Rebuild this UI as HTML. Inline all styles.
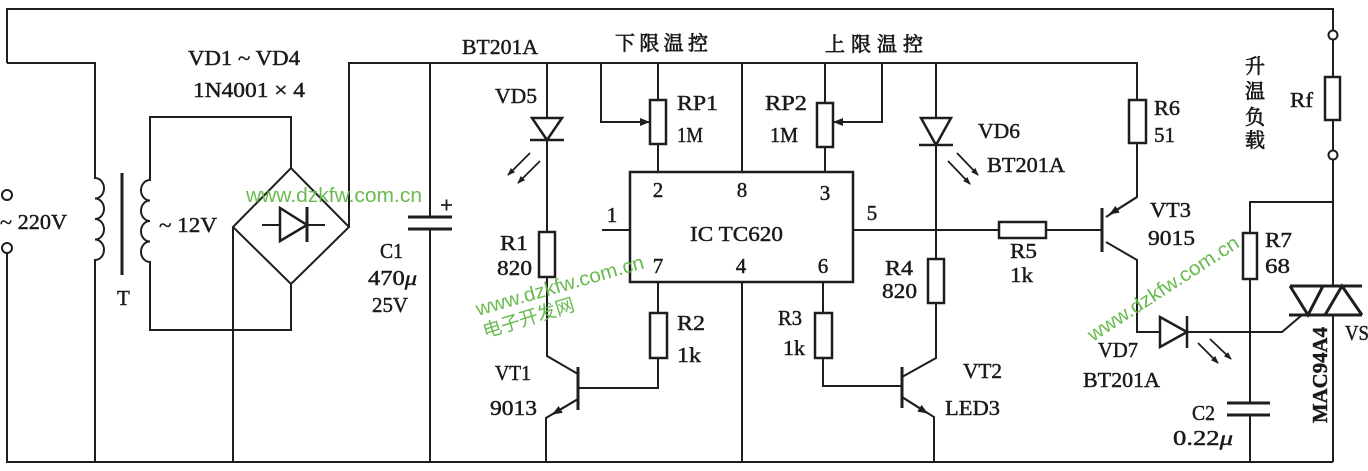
<!DOCTYPE html>
<html><head><meta charset="utf-8"><style>
html,body{margin:0;padding:0;background:#fff;}
svg{display:block;}
.w{fill:none;stroke:#1e1e1e;stroke-width:2;stroke-linejoin:miter;}
.r{fill:#fff;stroke:#1e1e1e;stroke-width:2.5;}
.t{font-family:"Liberation Serif","Noto Serif CJK SC",serif;font-size:21px;fill:#1a1a1a;stroke:#1a1a1a;stroke-width:0.45;}
.c{font-family:"Liberation Serif","Noto Serif CJK SC","Noto Sans CJK SC",serif;font-size:20px;fill:#1a1a1a;stroke:#1a1a1a;stroke-width:0.7;}
.g{font-family:"Liberation Sans","Noto Sans CJK SC",sans-serif;font-size:20px;fill:#62b846;opacity:0.95;}
</style></head><body>
<svg width="1368" height="471" viewBox="0 0 1368 471" xmlns="http://www.w3.org/2000/svg">
<defs>
<marker id="a" markerWidth="10" markerHeight="8" refX="9" refY="4" orient="auto" markerUnits="userSpaceOnUse"><path d="M0,0 L10,4 L0,8 Z" fill="#1e1e1e"/></marker>
<marker id="s" markerWidth="8" markerHeight="6" refX="7" refY="3" orient="auto" markerUnits="userSpaceOnUse"><path d="M0,0 L8,3 L0,6 Z" fill="#1e1e1e"/></marker>
</defs>
<rect width="1368" height="471" fill="#fff"/>

<!-- top wire and left -->
<path class="w" d="M7,63 V9 H1333 V30.5"/>
<path class="w" d="M7,63 H95 V178 a9,10.25 0 0 1 0,20.5 a9,10.25 0 0 1 0,20.5 a9,10.25 0 0 1 0,20.5 a9,10.25 0 0 1 0,20.5 V462"/>
<circle cx="7" cy="195" r="5" class="w"/>
<circle cx="7" cy="248" r="5" class="w"/>
<path class="w" d="M7,253 V462 H1333"/>
<path class="w" style="stroke-width:3" d="M122,173 V275"/>
<path class="w" d="M291,168 V117 H150 V180 a9,10.25 0 0 0 0,20.5 a9,10.25 0 0 0 0,20.5 a9,10.25 0 0 0 0,20.5 a9,10.25 0 0 0 0,20.5 V330 H291 V284"/>
<!-- bridge -->
<path class="w" d="M233,227 L291,168 L349,227 L291,284 Z"/>
<path class="w" d="M233,227 V462"/>
<path class="w" d="M262,225 H325"/>
<polygon points="280,208 280,241 307,225" fill="#fff" stroke="#1e1e1e" stroke-width="2.5"/>
<path class="w" style="stroke-width:3" d="M307,207 V242"/>
<path class="w" d="M349,227 V63 H1137 V100"/>
<!-- C1 -->
<path class="w" d="M430,63 V217 M430,229 V462"/>
<path class="w" style="stroke-width:3" d="M408,217 H452 M408,229 H452"/>
<path class="w" style="stroke-width:1.8" d="M441,205 H452 M446.5,199.5 V210.5"/>

<!-- VD5 / R1 / VT1 -->
<path class="w" d="M547,63 V118"/>
<polygon points="532,118 562,118 547,140" fill="#fff" stroke="#1e1e1e" stroke-width="2.5"/>
<path class="w" style="stroke-width:2.5" d="M530,140 H564"/>
<path class="w" d="M547,140 V232"/>
<rect class="r" x="539" y="232" width="16" height="45"/>
<path class="w" d="M547,277 V356 L578,374"/>
<path class="w" style="stroke-width:3" d="M578,367 V410"/>
<path class="w" d="M578,399 L546,418 V462"/>
<path class="w" d="M578,399 L553,414" marker-end="url(#a)"/>
<path class="w" style="stroke-width:1.8" d="M530,153 L508,175" marker-end="url(#s)"/>
<path class="w" style="stroke-width:1.8" d="M540,161 L518,183" marker-end="url(#s)"/>

<!-- RP1 -->
<path class="w" d="M601,63 V122 H649" marker-end="url(#a)"/>
<path class="w" d="M658,63 V100 M658,144 V172"/>
<rect class="r" x="650" y="100" width="16" height="44"/>
<path class="w" d="M742,63 V172"/>
<!-- RP2 -->
<path class="w" d="M825,63 V103 M825,147 V172"/>
<rect class="r" x="817" y="103" width="16" height="44"/>
<path class="w" d="M882,63 V122 H834" marker-end="url(#a)"/>

<!-- IC -->
<rect x="630" y="172" width="223" height="110" fill="none" stroke="#1e1e1e" stroke-width="2.5"/>
<path class="w" d="M602,230 H630"/>
<path class="w" d="M853,230 H999 M1046,230 H1102"/>
<rect class="r" x="999" y="222" width="47" height="16"/>
<path class="w" d="M658,282 V313 M658,358 V388 H578"/>
<rect class="r" x="650" y="313" width="17" height="45"/>
<path class="w" d="M742,282 V462"/>
<path class="w" d="M823,282 V313 M823,358 V386 H902"/>
<rect class="r" x="815" y="313" width="17" height="45"/>

<!-- VD6 / R4 / VT2 -->
<path class="w" d="M936,63 V118"/>
<polygon points="921,118 951,118 936,145" fill="#fff" stroke="#1e1e1e" stroke-width="2.5"/>
<path class="w" style="stroke-width:2.5" d="M919,145 H953"/>
<path class="w" d="M936,145 V259 M936,303 V358 L902,377"/>
<rect class="r" x="928" y="259" width="16" height="44"/>
<path class="w" style="stroke-width:3" d="M902,367 V408"/>
<path class="w" d="M902,397 L934,417 V462"/>
<path class="w" d="M902,397 L927,413" marker-end="url(#a)"/>
<path class="w" style="stroke-width:1.8" d="M957,153 L978,175" marker-end="url(#s)"/>
<path class="w" style="stroke-width:1.8" d="M948,161 L970,184" marker-end="url(#s)"/>

<!-- R6 / VT3 / VD7 -->
<rect class="r" x="1129" y="100" width="17" height="43"/>
<path class="w" d="M1137,143 V197 L1106,217"/>
<path class="w" d="M1137,197 L1110,214" marker-end="url(#a)"/>
<path class="w" style="stroke-width:3" d="M1102,208 V252"/>
<path class="w" d="M1106,242 L1137,260 V332 H1160"/>
<polygon points="1160,317 1160,347 1187,332" fill="#fff" stroke="#1e1e1e" stroke-width="2.5"/>
<path class="w" style="stroke-width:2.5" d="M1187,316 V348"/>
<path class="w" d="M1187,332 H1282 L1302,315"/>
<path class="w" style="stroke-width:1.8" d="M1198,343 L1218,363" marker-end="url(#s)"/>
<path class="w" style="stroke-width:1.8" d="M1210,339 L1231,359" marker-end="url(#s)"/>

<!-- R7 / C2 -->
<path class="w" d="M1333,202 H1250 V233 M1250,279 V403 M1250,415 V462"/>
<rect class="r" x="1243" y="233" width="14" height="46"/>
<path class="w" style="stroke-width:3" d="M1227,403 H1270 M1227,415 H1270"/>

<!-- Rf / triac -->
<circle cx="1333" cy="35" r="4.5" class="w"/>
<path class="w" d="M1333,39.5 V77 M1333,120 V150.5"/>
<rect class="r" x="1325" y="77" width="15" height="43"/>
<circle cx="1333" cy="155" r="4.5" class="w"/>
<path class="w" d="M1333,159.5 V286 M1333,315 V462"/>
<path class="w" style="stroke-width:3" d="M1290,286 H1362 M1289,315 H1362 M1290,286 L1308,315 L1323,286 M1325,315 L1342,286 L1362,315"/>

<!-- labels -->
<text class="t" x="0" y="229" textLength="67" lengthAdjust="spacingAndGlyphs">~ 220V</text>
<text class="t" x="117" y="305">T</text>
<text class="t" x="159" y="232" textLength="58" lengthAdjust="spacingAndGlyphs">~ 12V</text>
<text class="t" x="188" y="65" textLength="112" lengthAdjust="spacingAndGlyphs">VD1 ~ VD4</text>
<text class="t" x="193" y="97" textLength="112" lengthAdjust="spacingAndGlyphs">1N4001 × 4</text>
<text class="t" x="380" y="258" textLength="23" lengthAdjust="spacingAndGlyphs">C1</text>
<text class="t" x="368" y="285" textLength="49" lengthAdjust="spacingAndGlyphs">470<tspan font-style="italic">μ</tspan></text>
<text class="t" x="372" y="312" textLength="36" lengthAdjust="spacingAndGlyphs">25V</text>
<text class="t" x="462" y="54" textLength="76" lengthAdjust="spacingAndGlyphs">BT201A</text>
<text class="c" x="615" y="50" textLength="93">下限温控</text>
<text class="c" x="825" y="51" textLength="98">上限温控</text>
<text class="t" x="495" y="103" textLength="42" lengthAdjust="spacingAndGlyphs">VD5</text>
<text class="t" x="677" y="110" textLength="41" lengthAdjust="spacingAndGlyphs">RP1</text>
<text class="t" x="677" y="142" textLength="26" lengthAdjust="spacingAndGlyphs">1M</text>
<text class="t" x="765" y="110" textLength="42" lengthAdjust="spacingAndGlyphs">RP2</text>
<text class="t" x="770" y="142" textLength="28" lengthAdjust="spacingAndGlyphs">1M</text>
<g class="t" text-anchor="middle">
<text x="658" y="197">2</text>
<text x="742" y="197">8</text>
<text x="825" y="200">3</text>
<text x="612" y="222">1</text>
<text x="872" y="220">5</text>
<text x="658" y="273">7</text>
<text x="741" y="273">4</text>
<text x="823" y="273">6</text>
</g>
<text class="t" x="690" y="241" textLength="93" lengthAdjust="spacingAndGlyphs">IC TC620</text>
<text class="t" x="500" y="250" textLength="28" lengthAdjust="spacingAndGlyphs">R1</text>
<text class="t" x="497" y="275" textLength="35" lengthAdjust="spacingAndGlyphs">820</text>
<text class="t" x="677" y="330" textLength="28" lengthAdjust="spacingAndGlyphs">R2</text>
<text class="t" x="677" y="362" textLength="24" lengthAdjust="spacingAndGlyphs">1k</text>
<text class="t" x="495" y="380" textLength="36" lengthAdjust="spacingAndGlyphs">VT1</text>
<text class="t" x="490" y="415" textLength="47" lengthAdjust="spacingAndGlyphs">9013</text>
<text class="t" x="778" y="325" textLength="24" lengthAdjust="spacingAndGlyphs">R3</text>
<text class="t" x="783" y="355" textLength="22" lengthAdjust="spacingAndGlyphs">1k</text>
<text class="t" x="978" y="138" textLength="42" lengthAdjust="spacingAndGlyphs">VD6</text>
<text class="t" x="987" y="172" textLength="78" lengthAdjust="spacingAndGlyphs">BT201A</text>
<text class="t" x="1154" y="115" textLength="26" lengthAdjust="spacingAndGlyphs">R6</text>
<text class="t" x="1154" y="142" textLength="21" lengthAdjust="spacingAndGlyphs">51</text>
<text class="t" x="1150" y="217" textLength="41" lengthAdjust="spacingAndGlyphs">VT3</text>
<text class="t" x="1148" y="245" textLength="47" lengthAdjust="spacingAndGlyphs">9015</text>
<text class="t" x="1290" y="107" textLength="23" lengthAdjust="spacingAndGlyphs">Rf</text>
<g class="c" text-anchor="middle">
<text x="1255" y="73">升</text>
<text x="1255" y="98">温</text>
<text x="1255" y="124">负</text>
<text x="1255" y="147">载</text>
</g>
<text class="t" x="1010" y="258" textLength="27" lengthAdjust="spacingAndGlyphs">R5</text>
<text class="t" x="1010" y="282" textLength="23" lengthAdjust="spacingAndGlyphs">1k</text>
<text class="t" x="885" y="275" textLength="28" lengthAdjust="spacingAndGlyphs">R4</text>
<text class="t" x="882" y="298" textLength="35" lengthAdjust="spacingAndGlyphs">820</text>
<text class="t" x="963" y="378" textLength="39" lengthAdjust="spacingAndGlyphs">VT2</text>
<text class="t" x="945" y="415" textLength="55" lengthAdjust="spacingAndGlyphs">LED3</text>
<text class="t" x="1098" y="357" textLength="40" lengthAdjust="spacingAndGlyphs">VD7</text>
<text class="t" x="1083" y="387" textLength="77" lengthAdjust="spacingAndGlyphs">BT201A</text>
<text class="t" x="1265" y="247" textLength="27" lengthAdjust="spacingAndGlyphs">R7</text>
<text class="t" x="1265" y="273" textLength="25" lengthAdjust="spacingAndGlyphs">68</text>
<text class="t" x="1192" y="420" textLength="23" lengthAdjust="spacingAndGlyphs">C2</text>
<text class="t" x="1173" y="445" textLength="60" lengthAdjust="spacingAndGlyphs">0.22<tspan font-style="italic">μ</tspan></text>
<text class="t" font-weight="bold" text-anchor="middle" transform="translate(1327,375) rotate(-90)" textLength="96" lengthAdjust="spacingAndGlyphs">MAC94A4</text>
<text class="t" x="1345" y="340" textLength="24" lengthAdjust="spacingAndGlyphs">VS</text>

<!-- watermarks -->
<text class="g" x="246" y="202" textLength="176" lengthAdjust="spacingAndGlyphs">www.dzkfw.com.cn</text>
<text class="g" transform="translate(478,316) rotate(-16)" textLength="174" lengthAdjust="spacingAndGlyphs">www.dzkfw.com.cn</text>
<text class="g" style="font-size:19px" transform="translate(485,338) rotate(-17)" textLength="95" lengthAdjust="spacingAndGlyphs">电子开发网</text>
<text class="g" transform="translate(1093,342) rotate(-33)" textLength="176" lengthAdjust="spacingAndGlyphs">www.dzkfw.com.cn</text>
</svg>
</body></html>
